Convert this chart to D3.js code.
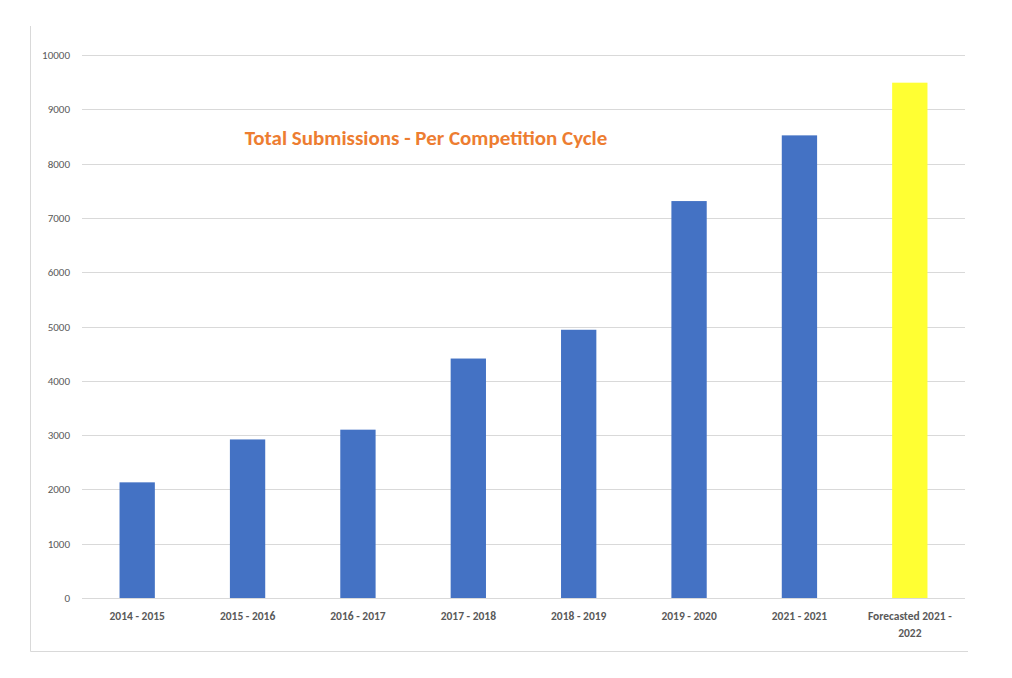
<!DOCTYPE html>
<html lang="en">
<head>
<meta charset="UTF-8">
<style>
  *{margin:0;padding:0}
  html,body{width:100%;height:100%;background:#fff;overflow:hidden}
  text{font-family:Calibri,"Liberation Sans",Carlito,sans-serif}
</style>
<script src="https://cdn.jsdelivr.net/npm/d3@7/dist/d3.min.js"></script>
</head>
<body>
<svg id="chart" width="1012" height="678"></svg>
<script>
const categories = ["2014 - 2015","2015 - 2016","2016 - 2017","2017 - 2018","2018 - 2019","2019 - 2020","2021 - 2021","Forecasted 2021 - 2022"];
const values = [2130, 2920, 3100, 4410, 4940, 7310, 8520, 9490];
const colors = ["#4472c4","#4472c4","#4472c4","#4472c4","#4472c4","#4472c4","#4472c4","#ffff33"];
const yTicks = [0,1000,2000,3000,4000,5000,6000,7000,8000,9000,10000];

const svg = d3.select("#chart");
const L = 82, R = 965, T = 55, B = 598;

// outer frame (left + bottom only)
svg.append("path").attr("d","M30.5,26V651.5H968").attr("fill","none").attr("stroke","#d9d9d9");

const x = d3.scaleBand().domain(categories).range([L,R]).paddingInner(0.68).paddingOuter(0.34);
const y = d3.scaleLinear().domain([0,10000]).range([B,T]);

svg.append("g").selectAll("line").data(yTicks).join("line")
  .attr("x1",L).attr("x2",R)
  .attr("y1",d=>Math.round(y(d))+0.5).attr("y2",d=>Math.round(y(d))+0.5)
  .attr("stroke","#d9d9d9");

svg.append("g").selectAll("text").data(yTicks).join("text")
  .attr("x",L-12).attr("y",d=>y(d)+4)
  .attr("text-anchor","end").attr("font-size",11).attr("fill","#595959")
  .text(d=>d);

svg.append("g").selectAll("rect").data(values).join("rect")
  .attr("x",(d,i)=>x(categories[i])).attr("width",x.bandwidth())
  .attr("y",d=>y(d)).attr("height",d=>B-y(d))
  .attr("fill",(d,i)=>colors[i]);

// x labels, wrapping the long one
const xl = svg.append("g").selectAll("text").data(categories).join("text")
  .attr("text-anchor","middle").attr("font-size",11.5).attr("font-weight","bold").attr("fill","#595959")
  .attr("transform",d=>`translate(${x(d)+x.bandwidth()/2},${B+22})`);
xl.each(function(d){
  const t = d3.select(this);
  const lines = d.length > 12 ? [d.slice(0,d.lastIndexOf(" - ")+2), d.slice(d.lastIndexOf(" - ")+3)] : [d];
  lines.forEach((s,k)=>t.append("tspan").attr("x",0).attr("dy",k?17:0).text(s));
});

svg.append("text").attr("x",426).attr("y",145).attr("text-anchor","middle")
  .attr("font-size",21).attr("font-weight","bold").attr("fill","#ed7d31")
  .text("Total Submissions - Per Competition Cycle");
</script>
</body>
</html>
